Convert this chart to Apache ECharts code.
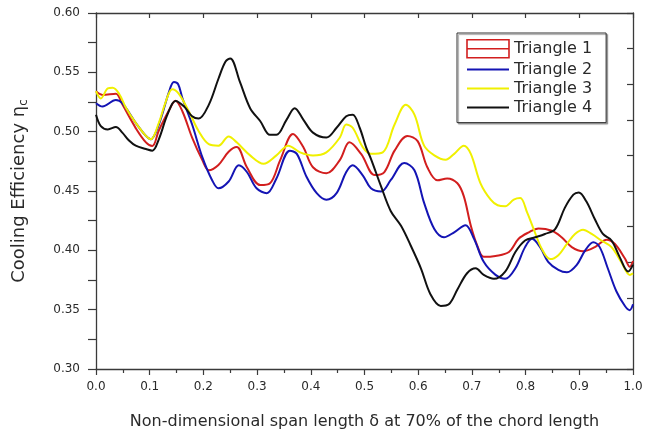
<!DOCTYPE html>
<html>
<head>
<meta charset="utf-8">
<script src="https://cdn.jsdelivr.net/npm/echarts@6/dist/echarts.min.js"></script>
<style>
  html, body { margin: 0; padding: 0; background: #fff; }
  #chart { width: 653px; height: 435px; }
</style>
</head>
<body>
<div id="chart"></div>
<script>
// Cooling efficiency along the span, one [delta, eta] list per triangle case
const seriesNames = ['Triangle 1', 'Triangle 2', 'Triangle 3', 'Triangle 4'];
const seriesColors = ['#d21e1e', '#1414b4', '#f0f000', '#111111'];

const triangle1 = [
  [0, .534], [.012, .531], [.037, .532], [.049, .523], [.074, .503], [.093, .491], [.105, .488],
  [.117, .501], [.136, .518], [.148, .526], [.161, .517], [.179, .495], [.198, .476], [.21, .4675],
  [.228, .472], [.247, .483], [.262, .487], [.281, .470], [.306, .455], [.324, .4565], [.343, .476],
  [.367, .498], [.386, .487], [.404, .470], [.429, .465], [.454, .476], [.472, .491], [.494, .481],
  [.519, .4634], [.537, .466], [.556, .484], [.580, .4964], [.599, .492], [.617, .470], [.636, .459],
  [.654, .4606], [.673, .4565], [.685, .4455], [.698, .4207], [.710, .404], [.722, .3945], [.744, .3953],
  [.769, .3986], [.787, .4097], [.806, .4152], [.824, .4185], [.849, .4165], [.867, .411], [.886, .4027],
  [.907, .3992], [.929, .4027], [.951, .409], [.966, .4055], [.985, .3931], [.994, .3862], [1.0, .391]
];

const triangle2 = [
  [0, .524], [.012, .5212], [.037, .5267], [.049, .524], [.074, .5074], [.093, .4964], [.102, .4936],
  [.117, .506], [.136, .5336], [.145, .5419], [.153, .540], [.161, .528], [.179, .506], [.198, .4785],
  [.216, .4593], [.228, .4523], [.247, .458], [.266, .4717], [.281, .466], [.299, .4523], [.318, .4482],
  [.336, .4606], [.361, .484], [.374, .4813], [.392, .462], [.411, .4482], [.429, .4427], [.448, .4482],
  [.466, .466], [.478, .4717], [.497, .463], [.512, .4523], [.531, .4496], [.549, .4593], [.574, .4736],
  [.593, .4675], [.611, .44], [.630, .418], [.648, .411], [.667, .4152], [.688, .4212], [.704, .4097],
  [.722, .3903], [.744, .3793], [.762, .376], [.781, .3849], [.799, .4027], [.812, .4097], [.827, .4027],
  [.842, .3903], [.861, .3835], [.877, .3815], [.895, .3876], [.911, .400], [.926, .4069], [.938, .4027],
  [.953, .3849], [.969, .3655], [.985, .3531], [.994, .3496], [1.0, .3545]
];

const triangle3 = [
  [0, .5342], [.009, .528], [.022, .5364], [.031, .537], [.043, .532], [.056, .52], [.074, .5074],
  [.093, .4964], [.102, .4936], [.117, .5074], [.130, .5254], [.142, .5358], [.154, .532], [.173, .517],
  [.191, .5006], [.21, .4895], [.228, .4882], [.247, .496], [.262, .491], [.287, .48], [.312, .473],
  [.336, .48], [.358, .4882], [.380, .4826], [.404, .48], [.429, .4826], [.454, .495], [.466, .506],
  [.478, .5033], [.497, .4868], [.512, .4813], [.534, .4826], [.556, .506], [.577, .5226], [.593, .5143],
  [.611, .4882], [.630, .48], [.651, .4763], [.667, .4813], [.685, .4882], [.698, .4813], [.716, .4565],
  [.735, .4427], [.748, .438], [.762, .4372], [.778, .4427], [.79, .444], [.803, .4317], [.815, .4179],
  [.830, .4014], [.846, .3926], [.861, .3959], [.877, .4055], [.892, .4138], [.907, .4174], [.923, .4138],
  [.941, .4083], [.960, .4027], [.978, .3903], [.994, .3793], [1.0, .3805]
];

const triangle4 = [
  [0, .5143], [.009, .5047], [.022, .5019], [.037, .5039], [.049, .4992], [.062, .4923], [.074, .4882],
  [.093, .4854], [.105, .484], [.117, .4936], [.133, .5143], [.148, .5259], [.164, .5212], [.179, .513],
  [.191, .511], [.21, .5226], [.228, .5446], [.241, .5589], [.25, .5617], [.268, .5419], [.287, .5198],
  [.306, .5088], [.324, .4973], [.336, .4973], [.355, .5102], [.370, .5198], [.386, .5102], [.404, .4992],
  [.429, .495], [.448, .5033], [.466, .513], [.478, .5143], [.491, .5033], [.503, .4868], [.512, .4771],
  [.531, .4537], [.549, .433], [.568, .4207], [.586, .4041], [.605, .3849], [.623, .3628], [.642, .3531],
  [.657, .3545], [.673, .367], [.691, .3807], [.707, .3849], [.722, .3793], [.741, .376], [.762, .3821],
  [.781, .3986], [.799, .4083], [.818, .411], [.836, .4138], [.855, .4179], [.873, .4358], [.889, .4469],
  [.899, .4488], [.913, .4413], [.929, .4262], [.944, .4138], [.960, .4083], [.975, .3945], [.991, .3821],
  [1.0, .388]
];

const seriesData = [triangle1, triangle2, triangle3, triangle4];

// Axis ranges and tick steps
const xRange = [0, 1];
const xStep = 0.1;
const yRange = [0.30, 0.60];
const yStep = 0.05;
const yRightStep = 0.03;

const FONT = 'DejaVu Sans';
const AXIS_COLOR = '#3a3a3a';
const TEXT_COLOR = '#2a2a2a';

const chart = echarts.init(document.getElementById('chart'), null, { renderer: 'canvas' });

const frameLine = { show: true, onZero: false, lineStyle: { color: AXIS_COLOR, width: 1.3 } };

const option = {
  backgroundColor: '#ffffff',
  animation: false,
  grid: { left: 93, right: 20, top: 13, bottom: 59, containLabel: false },
  legend: {
    orient: 'vertical',
    left: 457,
    top: 33,
    padding: [6, 14, 7, 9],
    itemWidth: 42,
    itemHeight: 18,
    itemGap: 3,
    borderColor: '#333',
    borderWidth: 1,
    shadowColor: 'rgba(0,0,0,0.35)',
    shadowOffsetX: 1.5,
    shadowOffsetY: 1.5,
    shadowBlur: 1,
    backgroundColor: '#fff',
    // only the line part of each legend icon is shown
    itemStyle: { opacity: 0 },
    textStyle: { fontFamily: FONT, fontSize: 16, color: TEXT_COLOR },
    data: [
      {
        name: seriesNames[0],
        icon: 'path://M0,0 L42,0 L42,18 L0,18 Z M0,9 L42,9',
        itemStyle: { opacity: 1, color: 'rgba(0,0,0,0)', borderColor: seriesColors[0], borderWidth: 1.6 }
      },
      { name: seriesNames[1] },
      { name: seriesNames[2] },
      { name: seriesNames[3] }
    ]
  },
  xAxis: [
    {
      type: 'value',
      position: 'bottom',
      min: xRange[0],
      max: xRange[1],
      interval: xStep,
      name: 'Non-dimensional span length δ at 70% of the chord length',
      nameLocation: 'middle',
      nameGap: 45,
      nameTextStyle: { fontFamily: FONT, fontSize: 16, color: TEXT_COLOR },
      axisLine: frameLine,
      axisTick: { show: true, inside: false, length: 6, lineStyle: { color: AXIS_COLOR, width: 1.2 } },
      minorTick: { show: true, splitNumber: 2, length: 4, lineStyle: { color: AXIS_COLOR, width: 1.2 } },
      splitLine: { show: false },
      axisLabel: {
        margin: 12,
        fontFamily: FONT,
        fontSize: 12,
        color: TEXT_COLOR,
        formatter: v => v.toFixed(1)
      }
    },
    {
      type: 'value',
      position: 'top',
      min: xRange[0],
      max: xRange[1],
      interval: xStep,
      axisLine: frameLine,
      axisTick: { show: true, inside: true, length: 5, lineStyle: { color: AXIS_COLOR, width: 1.2 } },
      splitLine: { show: false },
      axisLabel: { show: false }
    }
  ],
  yAxis: [
    {
      type: 'value',
      position: 'left',
      min: yRange[0],
      max: yRange[1],
      interval: yStep,
      name: 'Cooling Efficiency η{sub|c}',
      nameLocation: 'middle',
      nameGap: 66,
      nameTextStyle: {
        fontFamily: FONT,
        fontSize: 18,
        lineHeight: 22,
        color: TEXT_COLOR,
        rich: {
          sub: { fontFamily: FONT, fontSize: 12, lineHeight: 12, verticalAlign: 'bottom', color: TEXT_COLOR }
        }
      },
      axisLine: frameLine,
      axisTick: { show: true, inside: false, length: 8, lineStyle: { color: AXIS_COLOR, width: 1.2 } },
      minorTick: { show: true, splitNumber: 2, length: 8, lineStyle: { color: AXIS_COLOR, width: 1.2 } },
      splitLine: { show: false },
      axisLabel: {
        margin: 16,
        fontFamily: FONT,
        fontSize: 12,
        color: TEXT_COLOR,
        formatter: v => v.toFixed(2)
      }
    },
    {
      type: 'value',
      position: 'right',
      min: yRange[0],
      max: yRange[1],
      interval: yRightStep,
      axisLine: frameLine,
      axisTick: { show: true, inside: true, length: 6, lineStyle: { color: AXIS_COLOR, width: 1.2 } },
      splitLine: { show: false },
      axisLabel: { show: false }
    }
  ],
  series: seriesNames.map((name, i) => ({
    name: name,
    type: 'line',
    xAxisIndex: 0,
    yAxisIndex: 0,
    data: seriesData[i],
    smooth: 0.35,
    symbol: 'none',
    color: seriesColors[i],
    lineStyle: { color: seriesColors[i], width: 2 },
    z: 2 + i
  }))
};

chart.setOption(option);
</script>
</body>
</html>
